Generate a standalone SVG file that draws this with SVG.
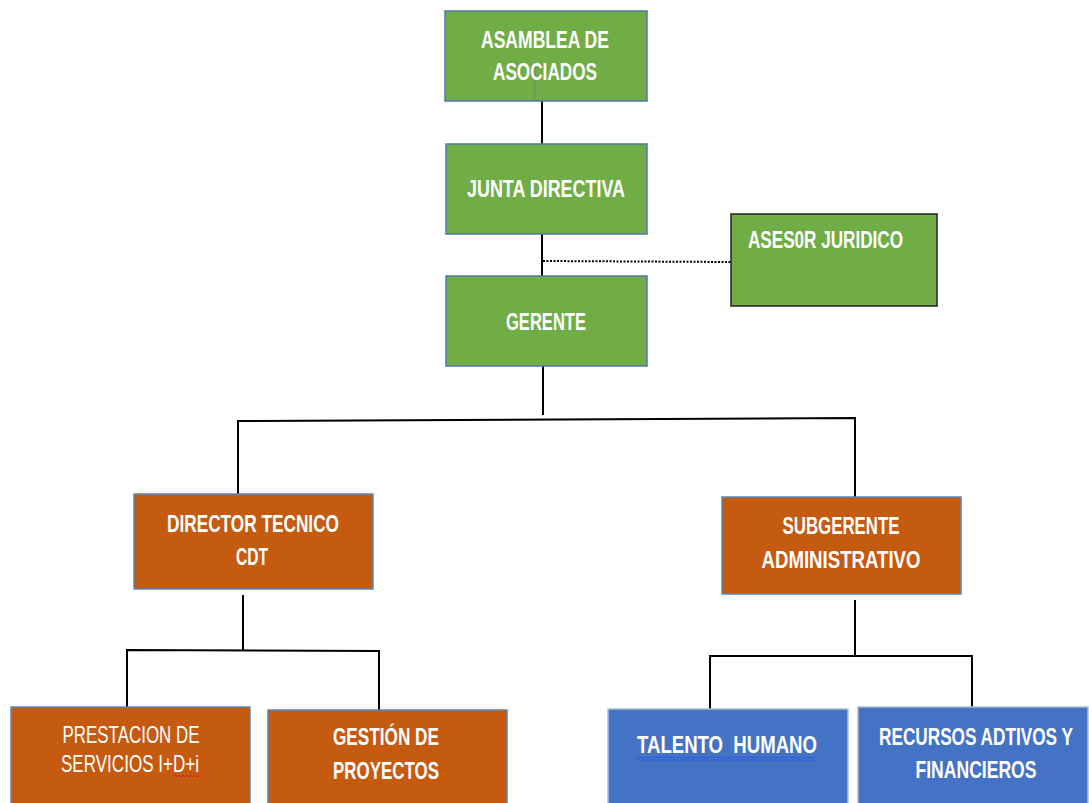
<svg xmlns="http://www.w3.org/2000/svg" width="1089" height="803" viewBox="0 0 1089 803">
<style>
.g{fill:#70AD47;stroke:#4E79A7;stroke-width:1.5}
.o{fill:#C55A11;stroke:#5B87B5;stroke-width:1.5}
.b{fill:#4472C4;stroke:#A9BCD6;stroke-width:1.5}
.t{font-family:"Liberation Sans",Arial,sans-serif;font-weight:bold;font-size:24px;fill:#ffffff}
.r{font-weight:normal}
.c{fill:none;stroke:#000000;stroke-width:2}
</style>
<rect width="1089" height="803" fill="#ffffff"/>
<g id="connectors">
<line class="c" x1="542" y1="101" x2="542" y2="144"/>
<line class="c" x1="542" y1="234" x2="542" y2="276"/>
<line x1="543" y1="261" x2="731" y2="262" stroke="#000" stroke-width="2" stroke-dasharray="2,1.5"/>
<line class="c" x1="543" y1="366" x2="543" y2="415"/>
<polyline class="c" points="238,494 238,421 855,418 855,497"/>
<line class="c" x1="243" y1="595" x2="243" y2="650"/>
<polyline class="c" points="127,707 127,650 379,651 379,710"/>
<line class="c" x1="855" y1="600" x2="855" y2="657"/>
<polyline class="c" points="710,710 710,656 972,656 972,707"/>
</g>
<g id="asamblea">
<rect class="g" x="445" y="11" width="202" height="90"/>
<line x1="535" y1="62" x2="535" y2="99" stroke="#7f7f7f" stroke-width="1"/>
<text class="t" x="545" y="48" text-anchor="middle" textLength="128" lengthAdjust="spacingAndGlyphs">ASAMBLEA DE</text>
<text class="t" x="545" y="80" text-anchor="middle" textLength="104" lengthAdjust="spacingAndGlyphs">ASOCIADOS</text>
</g>
<g id="junta">
<rect class="g" x="446" y="144" width="201" height="90"/>
<text class="t" x="546" y="197" text-anchor="middle" textLength="158" lengthAdjust="spacingAndGlyphs">JUNTA DIRECTIVA</text>
</g>
<g id="asesor">
<rect x="731" y="214" width="206" height="92" fill="#70AD47" stroke="#222222" stroke-width="1.5"/>
<text class="t" x="748" y="248" textLength="155" lengthAdjust="spacingAndGlyphs">ASES0R JURIDICO</text>
</g>
<g id="gerente">
<rect class="g" x="446" y="276" width="201" height="90"/>
<text class="t" x="546" y="330" text-anchor="middle" textLength="80" lengthAdjust="spacingAndGlyphs">GERENTE</text>
</g>
<g id="director">
<rect class="o" x="134" y="494" width="239" height="95"/>
<text class="t" x="253" y="532" text-anchor="middle" textLength="172" lengthAdjust="spacingAndGlyphs">DIRECTOR TECNICO</text>
<text class="t" x="252" y="565" text-anchor="middle" textLength="32" lengthAdjust="spacingAndGlyphs">CDT</text>
</g>
<g id="subgerente">
<rect class="o" x="722" y="497" width="239" height="97"/>
<text class="t" x="841" y="534" text-anchor="middle" textLength="117" lengthAdjust="spacingAndGlyphs">SUBGERENTE</text>
<text class="t" x="841" y="568" text-anchor="middle" textLength="159" lengthAdjust="spacingAndGlyphs">ADMINISTRATIVO</text>
</g>
<g id="prestacion">
<rect class="o" x="11" y="707" width="239" height="100"/>
<text class="t r" x="131" y="743" text-anchor="middle" textLength="137" lengthAdjust="spacingAndGlyphs">PRESTACION DE</text>
<text class="t r" x="130" y="772" text-anchor="middle" textLength="138" lengthAdjust="spacingAndGlyphs">SERVICIOS I+D+i</text>
<polyline points="173,777 175,775 177,777 179,775 181,777 183,775 185,777 187,775 189,777 191,775 193,777 195,775 197,777 199,775" fill="none" stroke="#E02020" stroke-width="1"/>
</g>
<g id="gestion">
<rect class="o" x="268" y="710" width="239" height="97"/>
<text class="t" x="386" y="745" text-anchor="middle" textLength="106" lengthAdjust="spacingAndGlyphs">GESTIÓN DE</text>
<text class="t" x="386" y="779" text-anchor="middle" textLength="106" lengthAdjust="spacingAndGlyphs">PROYECTOS</text>
</g>
<g id="talento">
<rect class="b" x="608" y="709" width="240" height="98"/>
<text class="t" x="727" y="753" text-anchor="middle" textLength="180" lengthAdjust="spacingAndGlyphs" xml:space="preserve">TALENTO  HUMANO</text>
<line x1="637" y1="757.5" x2="817" y2="757.5" stroke="#2E5FE0" stroke-width="1"/>
<line x1="637" y1="760" x2="817" y2="760" stroke="#2E5FE0" stroke-width="1"/>
</g>
<g id="recursos">
<rect class="b" x="858" y="707" width="230" height="100"/>
<text class="t" transform="translate(976,745) scale(0.717,1)" x="0" y="0" text-anchor="middle">RECURSOS ADTIVOS Y</text>
<text class="t" x="976" y="778" text-anchor="middle" textLength="121" lengthAdjust="spacingAndGlyphs">FINANCIEROS</text>
</g>
</svg>
